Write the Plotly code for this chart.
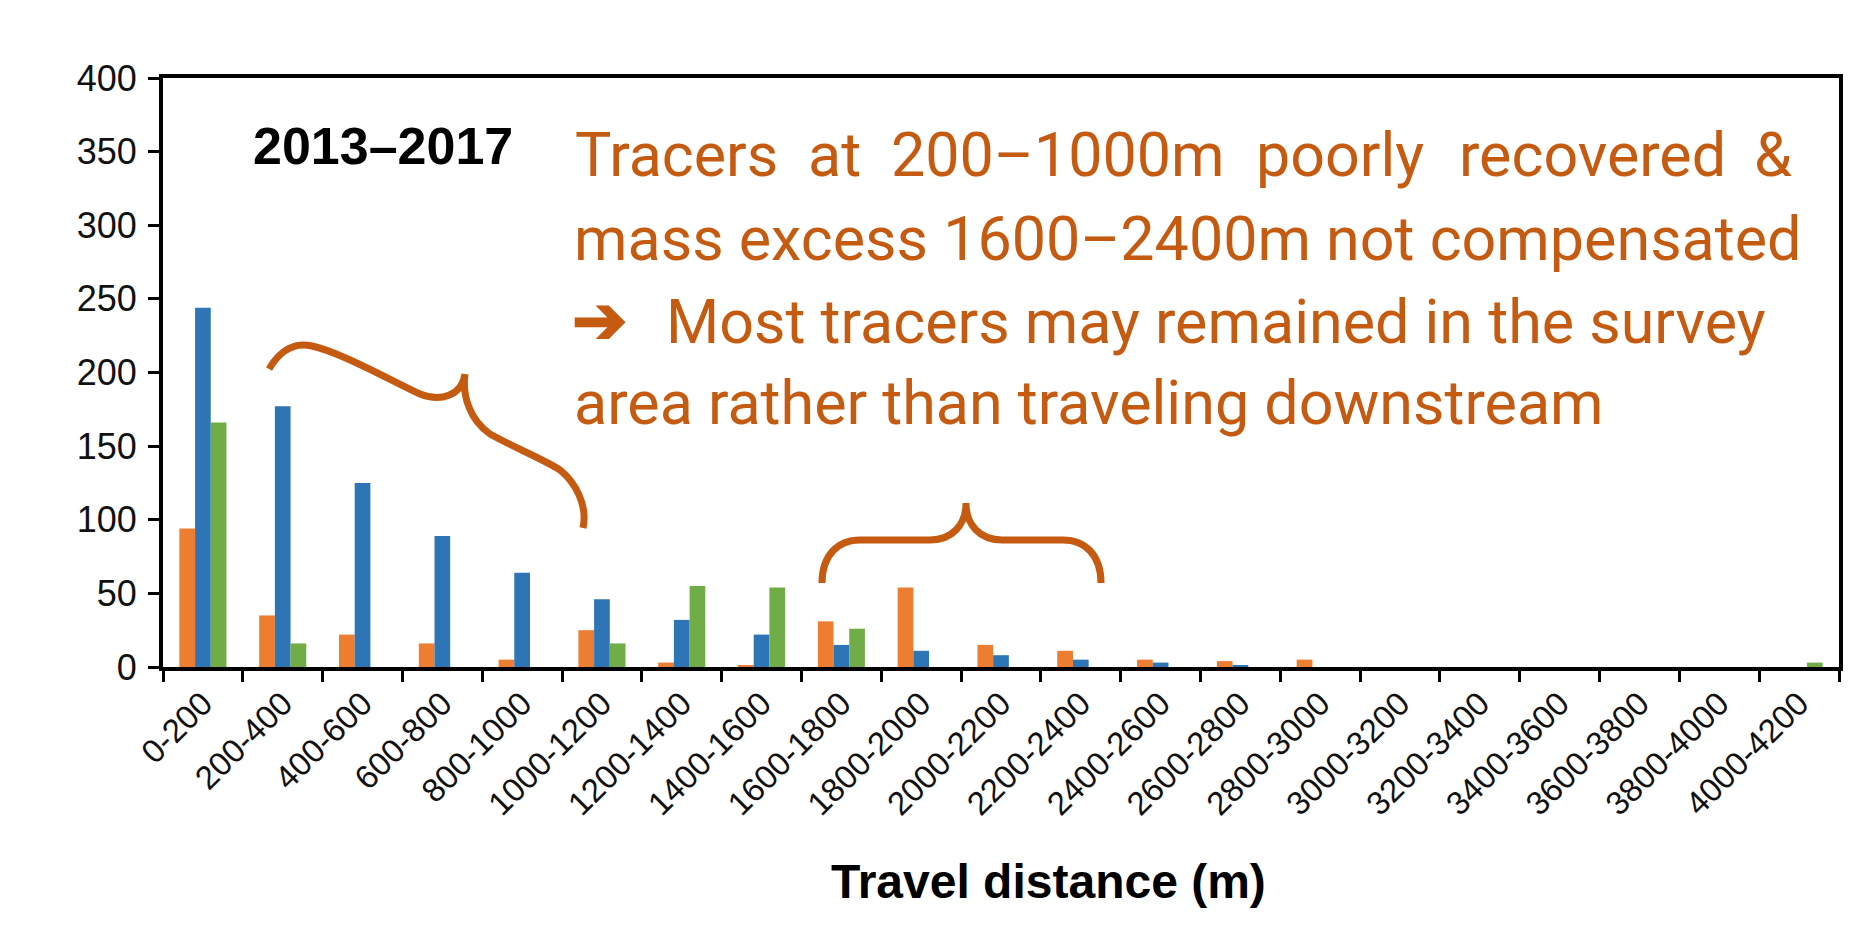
import plotly.graph_objects as go

categories = ["0-200", "200-400", "400-600", "600-800", "800-1000", "1000-1200",
              "1200-1400", "1400-1600", "1600-1800", "1800-2000", "2000-2200",
              "2200-2400", "2400-2600", "2600-2800", "2800-3000", "3000-3200",
              "3200-3400", "3400-3600", "3600-3800", "3800-4000", "4000-4200"]
orange_vals = [94, 35, 22, 16, 5, 25, 3, 1, 31, 54, 15, 11, 5, 4, 5, 0, 0, 0, 0, 0, 0]
blue_vals = [244, 177, 125, 89, 64, 46, 32, 22, 15, 11, 8, 5, 3, 1, 0, 0, 0, 0, 0, 0, 0]
green_vals = [166, 16, 0, 0, 0, 16, 55, 54, 26, 0, 0, 0, 0, 0, 0, 0, 0, 0, 0, 0, 3]
y_ticks = [0, 50, 100, 150, 200, 250, 300, 350, 400]

W, H = 1873, 947
X0, X1, YT, YB = 163, 1839, 78, 667
ANN = "#C55A11"
ANN_FONT = dict(family="Roboto, sans-serif", size=61, color=ANN)


def px(x, y):
    return (x - X0) / (X1 - X0), (YB - y) / (YB - YT)


def path(cmds):
    out = []
    for c in cmds:
        if isinstance(c, str):
            out.append(c)
        else:
            a, b = px(*c)
            out.append(f"{a:.5f},{b:.5f}")
    return " ".join(out)


fig = go.Figure()
for name, vals, col in [("orange", orange_vals, "#ED7D31"),
                        ("blue", blue_vals, "#2E75B6"),
                        ("green", green_vals, "#70AD47")]:
    fig.add_trace(go.Bar(x=categories, y=vals, name=name, marker_color=col,
                         marker_line_width=0))

fig.update_layout(
    width=W, height=H,
    margin=dict(l=X0, r=W - X1, t=YT, b=H - YB, pad=0),
    paper_bgcolor="white", plot_bgcolor="white",
    showlegend=False, barmode="group", bargap=0.41, bargroupgap=0,
    xaxis=dict(showline=True, linecolor="black", linewidth=4, mirror=True,
               ticks="outside", ticklen=11, tickwidth=3, tickcolor="black",
               tickson="boundaries", tickangle=-45,
               tickfont=dict(family="Liberation Sans, Arial", size=33, color="#111"),
               showgrid=False, ticklabelstandoff=0),
    yaxis=dict(showline=True, linecolor="black", linewidth=4, mirror=True,
               ticks="outside", ticklen=11, tickwidth=3, tickcolor="black",
               range=[0, 400], tickvals=y_ticks,
               tickfont=dict(family="Liberation Sans, Arial", size=36, color="#111"),
               showgrid=False, zeroline=False, ticklabelstandoff=4),
)

# year label
x, y = px(383, 146)
fig.add_annotation(x=x, y=y, xref="paper", yref="paper", text="<b>2013–2017</b>",
                   showarrow=False, xanchor="center", yanchor="middle",
                   font=dict(family="Liberation Sans, Arial", size=52, color="black"))
# axis title
x, y = px(1048, 881)
fig.add_annotation(x=x, y=y, xref="paper", yref="paper", text="<b>Travel distance (m)</b>",
                   showarrow=False, xanchor="center", yanchor="middle",
                   font=dict(family="Liberation Sans, Arial", size=48, color="black"))

# annotation text (line 1 justified word by word)
line1_words = ["Tracers", "at", "200–1000m", "poorly", "recovered"]
line1_starts = [573, 806, 889, 1254, 1457]
line1_last = "&"
line2 = "mass excess 1600–2400m not compensated"
line3_arrow = "<b>➔</b>"
line3 = "Most tracers may remained in the survey"
line4 = "area rather than traveling downstream"
cy = [155, 239, 322, 403]


def ann(text, xpix, ypix, xanchor="left", size=61):
    x, y = px(xpix, ypix)
    fig.add_annotation(x=x, y=y, xref="paper", yref="paper", text=text,
                       showarrow=False, xanchor=xanchor, yanchor="middle",
                       font=dict(ANN_FONT, size=size))


for w_, s_ in zip(line1_words, line1_starts):
    ann(w_, s_, cy[0])
ann(line1_last, 1794, cy[0], "right")
ann(line2, 572, cy[1])
ann(line3_arrow, 570, cy[2] - 2, size=66)
ann(line3, 664, cy[2])
ann(line4, 572, cy[3])

# brace 1 (tilted)
b1 = path(["M", (269, 369), "C", (280, 350), (295, 342), (312, 346),
           "C", (340, 352), (390, 380), (420, 394),
           "C", (440, 402), (462, 396), (465, 374),
           "C", (462, 396), (470, 420), (490, 434),
           "C", (515, 448), (545, 460), (560, 470),
           "C", (575, 482), (588, 505), (583, 528)])
fig.add_shape(type="path", path=b1, xref="paper", yref="paper",
              line=dict(color=ANN, width=7))
# brace 2 (horizontal)
b2 = path(["M", (822, 583), "C", (822, 555), (838, 540), (860, 540),
           "L", (930, 540), "C", (952, 540), (966, 525), (966, 503),
           "C", (966, 525), (980, 540), (1002, 540),
           "L", (1063, 540), "C", (1085, 540), (1101, 555), (1101, 583)])
fig.add_shape(type="path", path=b2, xref="paper", yref="paper",
              line=dict(color=ANN, width=7))

fig.write_html("out.html", config={"displayModeBar": False},
               post_script="document.body.style.margin='0';")
